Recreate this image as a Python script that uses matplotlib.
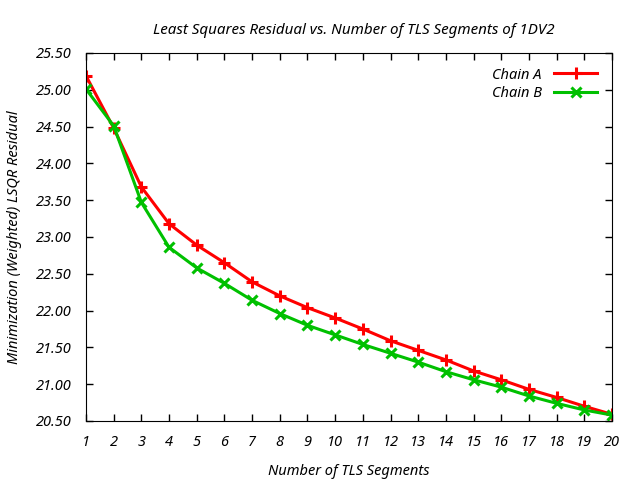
import matplotlib
matplotlib.use('Agg')
import matplotlib.pyplot as plt
from matplotlib.ticker import FormatStrFormatter

segments = list(range(1, 21))
chain_a = [25.19, 24.48, 23.68, 23.18, 22.89, 22.65, 22.39, 22.20, 22.04, 21.90,
           21.75, 21.59, 21.46, 21.33, 21.18, 21.06, 20.93, 20.82, 20.70, 20.59]
chain_b = [25.01, 24.51, 23.47, 22.86, 22.58, 22.37, 22.14, 21.96, 21.80, 21.67,
           21.54, 21.42, 21.30, 21.17, 21.06, 20.96, 20.84, 20.74, 20.65, 20.58]

plt.rcParams['font.family'] = ['Noto Sans', 'DejaVu Sans']
plt.rcParams['font.style'] = 'italic'
plt.rcParams['font.size'] = 10.5

fig = plt.figure(figsize=(6.4, 4.8), dpi=100)
ax = fig.add_axes([86 / 640, 59 / 480, 526 / 640, 368 / 480])

ax.plot(segments, chain_a, color='#ff0000', lw=2.2, marker='+', ms=9, mew=2.2, label='Chain A')
ax.plot(segments, chain_b, color='#00c000', lw=2.2, marker='x', ms=7, mew=2.2, label='Chain B')

ax.set_xlim(1, 20)
ax.set_ylim(20.5, 25.5)
ax.set_xticks(segments)
ax.set_yticks([20.5 + 0.5 * i for i in range(11)])
ax.yaxis.set_major_formatter(FormatStrFormatter('%.2f'))
ax.tick_params(direction='in', length=5, width=1, top=True, right=True, pad=10, labelsize=10.5)

ax.set_title('Least Squares Residual vs. Number of TLS Segments of 1DV2', pad=14,
             fontsize=10.9, x=0.51)
ax.set_xlabel('Number of TLS Segments', labelpad=10)
ax.set_ylabel('Minimization (Weighted) LSQR Residual', labelpad=10)

leg = ax.legend(loc='upper right', frameon=False, markerfirst=False,
                handlelength=3.0, borderaxespad=0.6, labelspacing=0.25)
for t in leg.get_texts():
    t.set_ha('right')

fig.savefig('out.png', dpi=100)
